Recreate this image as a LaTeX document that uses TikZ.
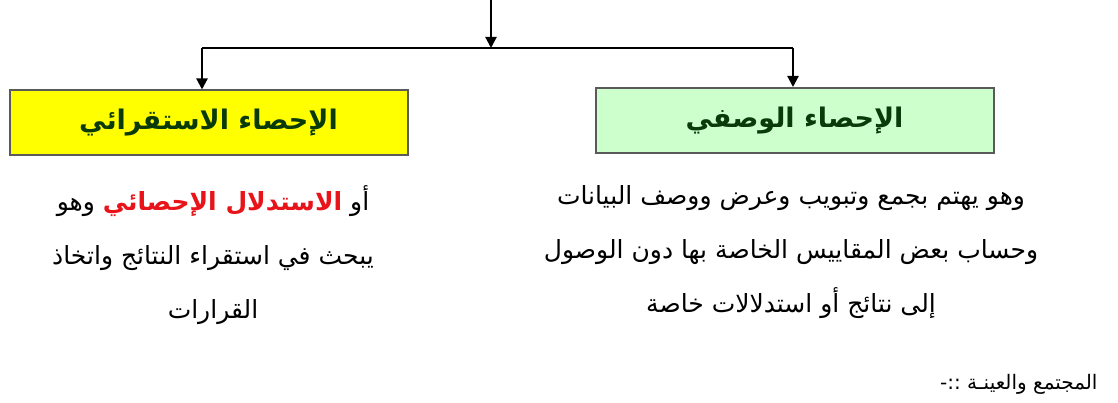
\documentclass[tikz,border=0pt]{standalone}
\usepackage{fontspec}
\newfontfamily\arabicfont[Script=Arabic]{DejaVu Sans}
\usetikzlibrary{arrows.meta}
\TeXXeTstate=1
\definecolor{boxgreen}{HTML}{CCFFCC}
\definecolor{boxyellow}{HTML}{FFFF00}
\definecolor{titlegreen}{HTML}{0A3A0A}
\definecolor{boxborder}{HTML}{5A5A5A}
\definecolor{hlred}{HTML}{E8141A}
\tikzset{
  conn/.style={line width=2.2pt, -{Triangle[length=11pt,width=11pt]}},
  plain/.style={line width=2.2pt},
  catbox/.style={draw=boxborder, line width=2pt, minimum width=398pt, minimum height=65pt,
    font=\arabicfont\bfseries\fontsize{27}{32}\selectfont, text=titlegreen},
  body/.style={align=center, font=\arabicfont\fontsize{25}{54}\selectfont, text=black},
  foot/.style={font=\arabicfont\fontsize{20}{24}\selectfont, text=black}
}
\begin{document}
\begin{tikzpicture}[x=1pt,y=-1pt]
\useasboundingbox (0,0) rectangle (1118,403);
\node[catbox, fill=boxyellow] (infer) at (208.5,123) {\beginR الإحصاء الاستقرائي\endR};
\node[catbox, fill=boxgreen] (desc) at (794.5,120.5) {\beginR الإحصاء الوصفي\endR};
\coordinate (top) at (491,0);
\coordinate (junc) at (491,48);
\coordinate (jl) at (202,48);
\coordinate (jr) at (793,48);
\draw[conn] (top) -- (junc);
\draw[plain] (jl) -- (jr);
\draw[conn] (jl) -- (jl |- infer.north);
\draw[conn] (jr) -- (jr |- desc.north);
\node[body] (infertext) at (213,255) {{\beginR وهو\endR} {\color{hlred}\bfseries\beginR الاستدلال الإحصائي\endR} {\beginR أو\endR}\\ \beginR يبحث في استقراء النتائج واتخاذ\endR\\ \beginR القرارات\endR};
\node[body] (desctext) at (791,252) {\beginR وهو يهتم بجمع وتبويب وعرض ووصف البيانات\endR\\ \beginR وحساب بعض المقاييس الخاصة بها دون الوصول\endR\\ \beginR إلى نتائج أو استدلالات خاصة\endR};
\node[foot, anchor=east] (section) at (1101,384) {\beginR المجتمع والعينـة ::-\endR};
\end{tikzpicture}
\end{document}
